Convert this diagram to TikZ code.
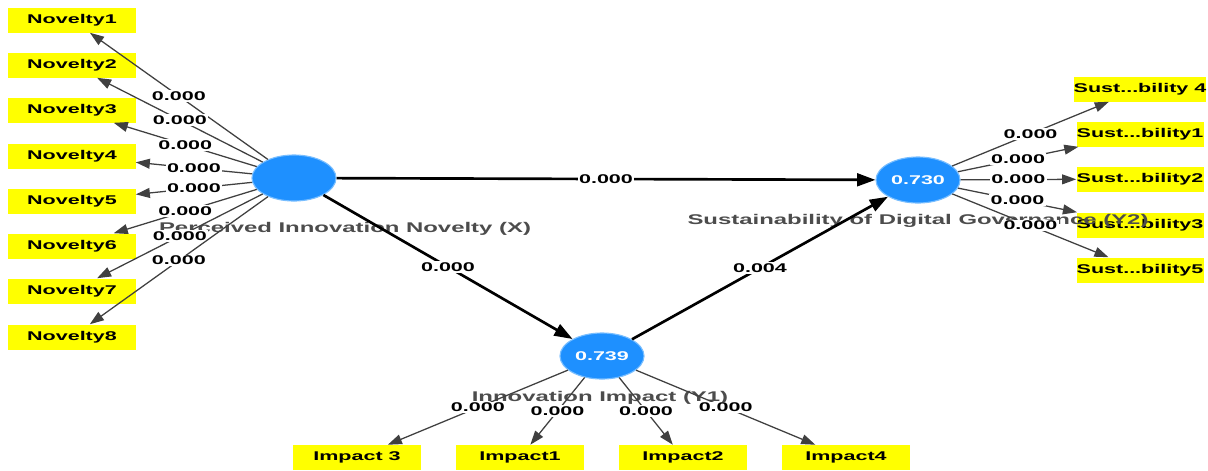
\documentclass[tikz,border=0pt]{standalone}
\usepackage{fontspec}
\setmainfont{Liberation Sans}[FakeStretch=1.7]
\usetikzlibrary{arrows.meta,shapes.geometric}
\definecolor{lvblue}{RGB}{30,144,255}
\definecolor{lvrim}{RGB}{120,190,255}
\definecolor{mvyellow}{RGB}{255,255,0}
\begin{document}
\begin{tikzpicture}[x=0.025cm, y=-0.025cm,
latentnode/.style={ellipse, fill=lvblue, draw=lvrim, line width=0.8pt, minimum width=2.1cm, minimum height=1.15cm, inner sep=0pt, text=white, font=\bfseries\fontsize{9}{10}\selectfont},
itemnode/.style={rectangle, fill=mvyellow, minimum width=3.175cm, minimum height=0.625cm, inner sep=0pt, font=\bfseries\fontsize{9}{10}\selectfont},
namenode/.style={text=black!70, font=\bfseries\fontsize{10}{12}\selectfont},
pval/.style={fill=white, inner sep=1pt, font=\bfseries\fontsize{9}{10}\selectfont},
loading/.style={-{Triangle[length=10pt,width=7pt]}, draw=black!75, line width=0.9pt},
innerpath/.style={-{Triangle[length=13pt,width=9pt]}, draw=black, line width=1.9pt},
]
\useasboundingbox[fill=white] (0,0) rectangle (1208,470);
%Nodes
\node[latentnode](novx) at (294,178) {};
\node[latentnode](impy) at (602,356) {0.739};
\node[latentnode](susy) at (918,180) {0.730};
\node[itemnode](nov1) at (72,20)  {Novelty1};
\node[itemnode](nov2) at (72,65)  {Novelty2};
\node[itemnode](nov3) at (72,110) {Novelty3};
\node[itemnode](nov4) at (72,156) {Novelty4};
\node[itemnode](nov5) at (72,201) {Novelty5};
\node[itemnode](nov6) at (72,246) {Novelty6};
\node[itemnode](nov7) at (72,291) {Novelty7};
\node[itemnode](nov8) at (72,337) {Novelty8};
\node[itemnode](sus4) at (1140,89)  {Sust...bility 4};
\node[itemnode](sus1) at (1140,134) {Sust...bility1};
\node[itemnode](sus2) at (1140,179) {Sust...bility2};
\node[itemnode](sus3) at (1140,225) {Sust...bility3};
\node[itemnode](sus5) at (1140,270) {Sust...bility5};
\node[itemnode](imp3) at (357,457.5) {Impact 3};
\node[itemnode](imp1) at (520,457.5) {Impact1};
\node[itemnode](imp2) at (683,457.5) {Impact2};
\node[itemnode](imp4) at (846,457.5) {Impact4};
%Names
\node[namenode](xname) at (345,229) {Perceived Innovation Novelty (X)};
\node[namenode](yonename) at (600,398) {Innovation Impact (Y1)};
\node[namenode](ytwoname) at (918,221) {Sustainability of Digital Governance (Y2)};
%Lines
\draw[loading] (novx) -- node[pval]{0.000} (nov1);
\draw[loading] (novx) -- node[pval]{0.000} (nov2);
\draw[loading] (novx) -- node[pval]{0.000} (nov3);
\draw[loading] (novx) -- node[pval]{0.000} (nov4);
\draw[loading] (novx) -- node[pval]{0.000} (nov5);
\draw[loading] (novx) -- node[pval]{0.000} (nov6);
\draw[loading] (novx) -- node[pval]{0.000} (nov7);
\draw[loading] (novx) -- node[pval]{0.000} (nov8);
\draw[loading] (susy) -- node[pval]{0.000} (sus4);
\draw[loading] (susy) -- node[pval]{0.000} (sus1);
\draw[loading] (susy) -- node[pval]{0.000} (sus2);
\draw[loading] (susy) -- node[pval]{0.000} (sus3);
\draw[loading] (susy) -- node[pval]{0.000} (sus5);
\draw[loading] (impy) -- node[pval]{0.000} (imp3);
\draw[loading] (impy) -- node[pval]{0.000} (imp1);
\draw[loading] (impy) -- node[pval]{0.000} (imp2);
\draw[loading] (impy) -- node[pval]{0.000} (imp4);
\draw[innerpath] (novx) -- node[pval]{0.000} (susy);
\draw[innerpath] (novx) -- node[pval]{0.000} (impy);
\draw[innerpath] (impy) -- node[pval]{0.004} (susy);
\end{tikzpicture}
\end{document}
